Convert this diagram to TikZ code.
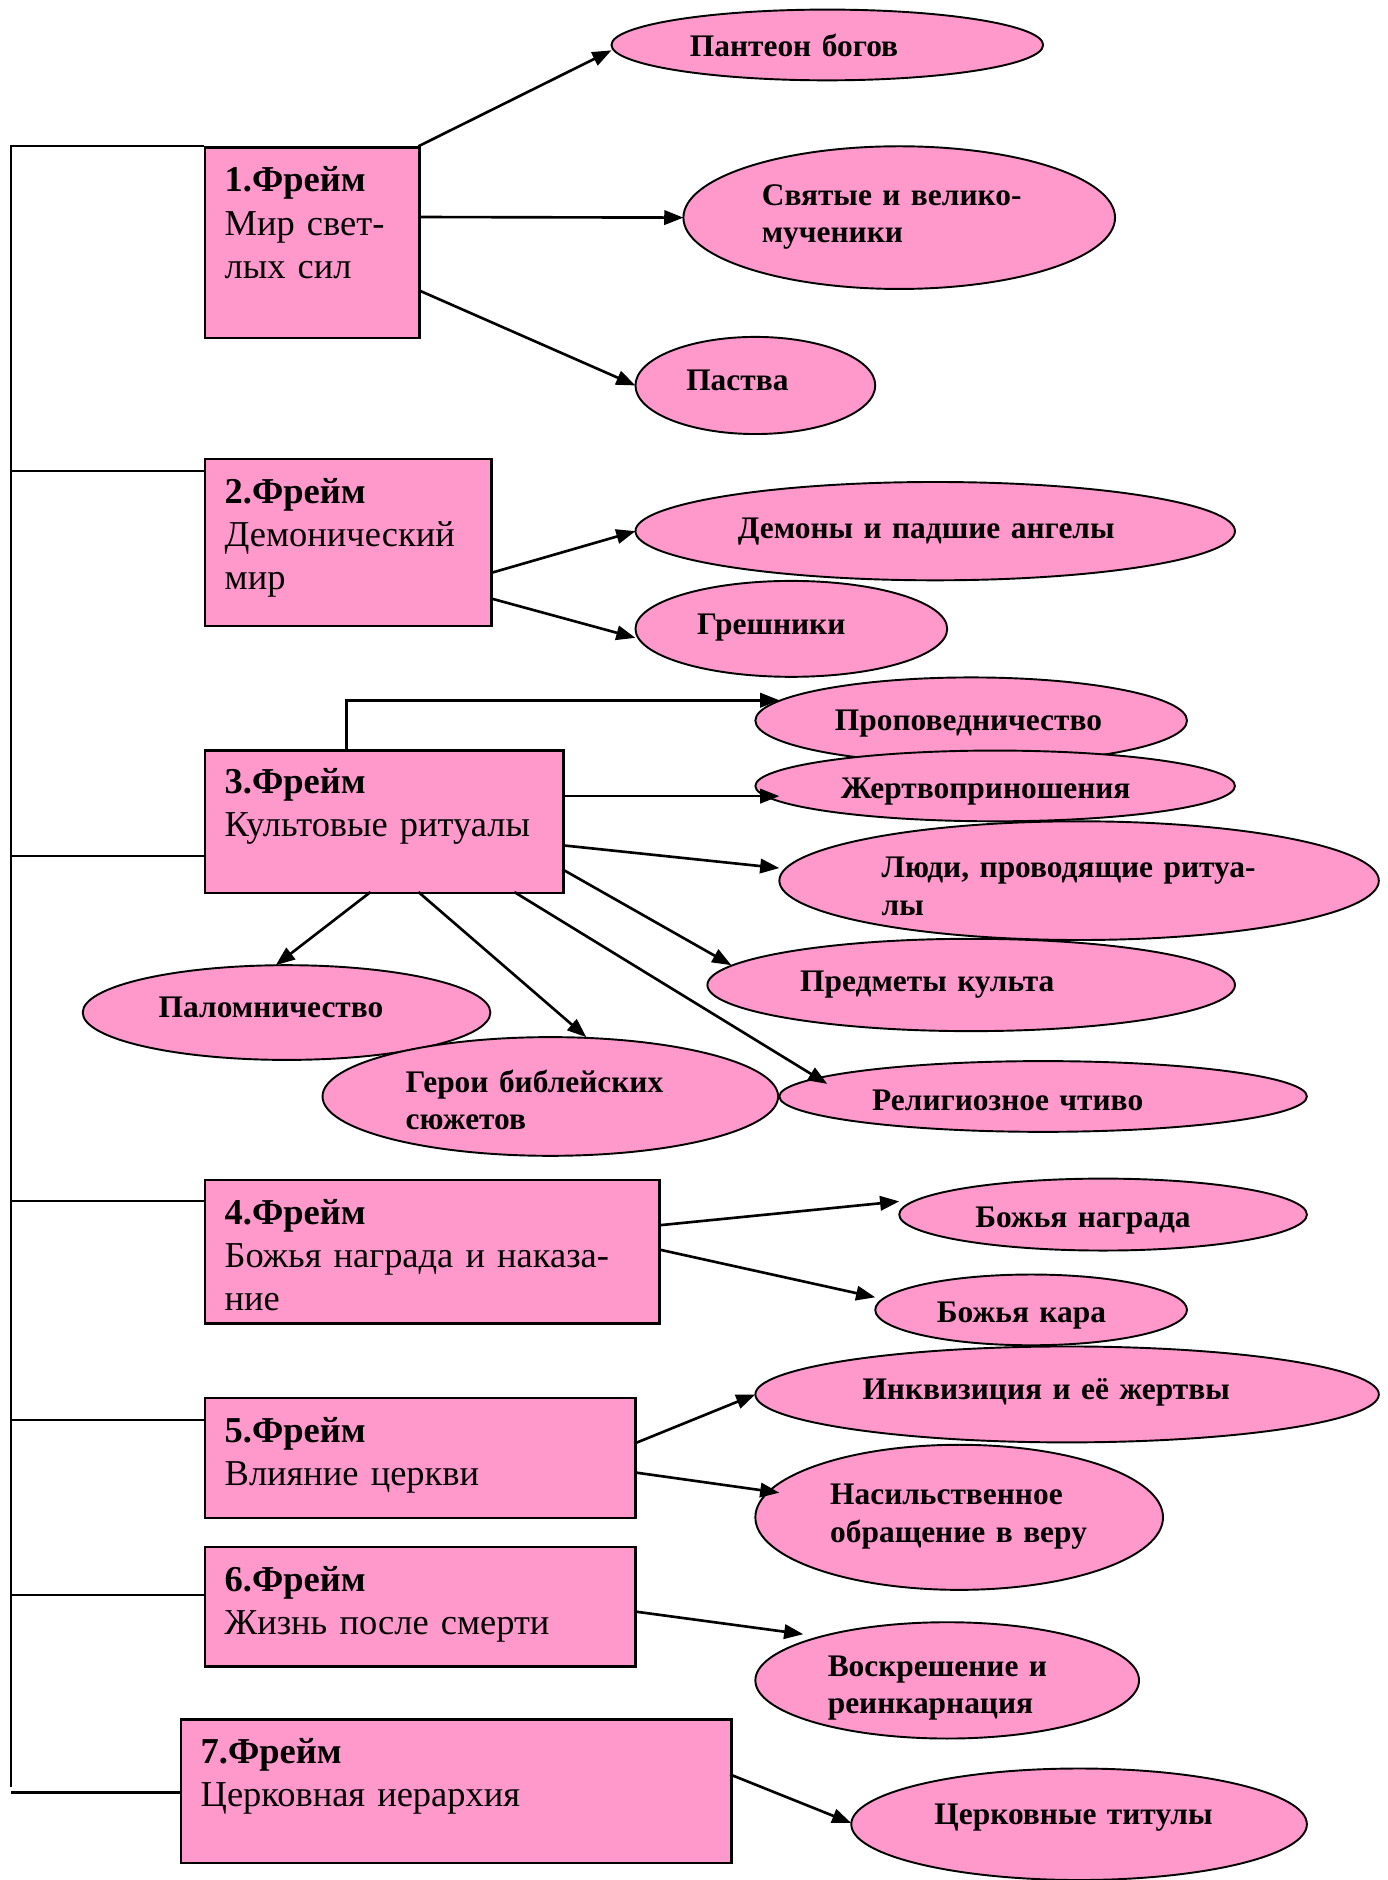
\documentclass[tikz,border=0pt]{standalone}
\usepackage{fontspec}
\setmainfont{Liberation Serif}
\usetikzlibrary{arrows.meta,shapes.geometric,calc}
\definecolor{pinkfill}{HTML}{FF99CC}
\tikzset{
  framebox/.style={draw=black, line width=1pt, fill=pinkfill, rectangle, inner sep=0pt, anchor=north west},
  oval/.style={draw=black, line width=0.8pt, fill=pinkfill, ellipse, inner sep=0pt},
  conn/.style={line width=1.1pt, -{Triangle[length=8pt,width=6pt]}},
  treeline/.style={line width=0.9pt},
  boxtxt/.style={anchor=base west, inner sep=0pt, align=left, text width=220pt,
     font={\fontsize{15.2}{18}\selectfont\lineskiplimit=-50pt}},
  lbl/.style={anchor=base west, inner sep=0pt, align=left, text width=220pt,
     font={\bfseries\fontsize{13.1}{15.7}\selectfont\lineskiplimit=-50pt}},
}
\begin{document}
\begin{tikzpicture}[x=0.5pt,y=-0.5pt]
\useasboundingbox (0,0) rectangle (1157,1568);

% frame boxes
\node[framebox, minimum width=89.5pt, minimum height=79.5pt] (b1) at (170,122) {};
\node[framebox, minimum width=119.5pt, minimum height=69.5pt] (b2) at (170,382) {};
\node[framebox, minimum width=149.5pt, minimum height=59.5pt] (b3) at (170,625) {};
\node[framebox, minimum width=189.5pt, minimum height=60pt] (b4) at (170,983) {};
\node[framebox, minimum width=179.5pt, minimum height=50pt] (b5) at (170,1165) {};
\node[framebox, minimum width=179.5pt, minimum height=50pt] (b6) at (170,1289) {};
\node[framebox, minimum width=229.5pt, minimum height=60pt] (b7) at (150,1433) {};

% box texts
\node[boxtxt] (t1) at (187,160) {\textbf{1.Фрейм}\\Мир свет-\\лых сил};
\node[boxtxt] (t2) at (187,420) {\textbf{2.Фрейм}\\Демонический\\мир};
\node[boxtxt] (t3) at (187,662) {\textbf{3.Фрейм}\\Культовые ритуалы};
\node[boxtxt] (t4) at (187,1021) {\textbf{4.Фрейм}\\Божья награда и наказа-\\ние};
\node[boxtxt] (t5) at (187,1203) {\textbf{5.Фрейм}\\Влияние церкви};
\node[boxtxt] (t6) at (187,1327) {\textbf{6.Фрейм}\\Жизнь после смерти};
\node[boxtxt] (t7) at (167,1471) {\textbf{7.Фрейм}\\Церковная иерархия};

% ellipses
\node[oval, minimum width=180pt, minimum height=29.5pt] (e1) at (690,37.5) {};
\node[oval, minimum width=180pt, minimum height=59.5pt] (e2) at (750,181.5) {};
\node[oval, minimum width=100pt, minimum height=40.5pt] (e3) at (630,321.5) {};
\node[oval, minimum width=250pt, minimum height=41pt] (e4) at (780,443) {};
\node[oval, minimum width=130pt, minimum height=40pt] (e5) at (660,524.5) {};
\node[oval, minimum width=180pt, minimum height=36pt] (e6) at (810,601) {};
\node[oval, minimum width=200pt, minimum height=29.5pt] (e7) at (830,655.5) {};
\node[oval, minimum width=250pt, minimum height=49.5pt] (e8) at (900,734.5) {};
\node[oval, minimum width=220pt, minimum height=38.5pt] (e9) at (810,821.5) {};
\node[oval, minimum width=170pt, minimum height=39.5pt] (e10) at (239,844.5) {};
\node[oval, minimum width=190pt, minimum height=49.5pt] (e11) at (459,914.5) {};
\node[oval, minimum width=220pt, minimum height=29.5pt] (e12) at (870,914.5) {};
\node[oval, minimum width=170pt, minimum height=30pt] (e13) at (920,1013) {};
\node[oval, minimum width=130pt, minimum height=29.5pt] (e14) at (860,1092.5) {};
\node[oval, minimum width=260pt, minimum height=40pt] (e15) at (890,1163) {};
\node[oval, minimum width=170pt, minimum height=60.5pt] (e16) at (800,1265.5) {};
\node[oval, minimum width=160pt, minimum height=48.5pt] (e17) at (790,1401.5) {};
\node[oval, minimum width=190pt, minimum height=46.5pt] (e18) at (900,1521.5) {};

% ellipse labels
\node[lbl] (l1) at (575,47) {Пантеон богов};
\node[lbl] (l2) at (635,171) {Святые и велико-\\мученики};
\node[lbl] (l3) at (572,326) {Паства};
\node[lbl] (l4) at (615,449) {Демоны и падшие ангелы};
\node[lbl] (l5) at (581,529) {Грешники};
\node[lbl] (l6) at (696,609) {Проповедничество};
\node[lbl] (l7) at (701,666) {Жертвоприношения};
\node[lbl] (l8) at (735,732) {Люди, проводящие ритуа-\\лы};
\node[lbl] (l9) at (667,827) {Предметы культа};
\node[lbl] (l10) at (132,849) {Паломничество};
\node[lbl] (l11) at (338,911) {Герои библейских\\сюжетов};
\node[lbl] (l12) at (727,926) {Религиозное чтиво};
\node[lbl] (l13) at (813,1024) {Божья награда};
\node[lbl] (l14) at (781,1103) {Божья кара};
\node[lbl] (l15) at (719,1167) {Инквизиция и её жертвы};
\node[lbl] (l16) at (692,1255) {Насильственное\\обращение в веру};
\node[lbl] (l17) at (690,1398) {Воскрешение и\\реинкарнация};
\node[lbl] (l18) at (779,1522) {Церковные титулы};

% tree on the left
\coordinate (top) at (9,122);
\coordinate (bot) at (9,1490);
\draw[treeline] (b1.north west) -- (top) -- (bot);
\coordinate (a2) at ($(b2.north west)+(0,11)$);
\coordinate (a3) at ($(b3.north west)+(0,89)$);
\coordinate (a4) at ($(b4.north west)+(0,19)$);
\coordinate (a5) at ($(b5.north west)+(0,19)$);
\coordinate (a6) at ($(b6.north west)+(0,41)$);
\coordinate (a7) at ($(b7.north west)+(0,62)$);
\foreach \a in {a2,a3,a4,a5,a6,a7} \draw[treeline] (\a) -- (\a -| top);

% connectors
\draw[conn] ($(b1.north west)+(179,0)$) -- ($(e1.center)+(-180,4.5)$);
\draw[conn] ($(b1.north west)+(179,59)$) -- ($(e2.center)+(-180,0)$);
\draw[conn] ($(b1.north west)+(179,120)$) -- ($(e3.center)+(-100,0)$);
\draw[conn] ($(b2.north west)+(239,96)$) -- ($(e4.center)+(-250,0)$);
\draw[conn] ($(b2.north west)+(239,117)$) -- ($(e5.center)+(-130,7.5)$);
\draw[conn] ($(b3.north west)+(119,0)$) |- ($(e6.center)+(-160,-17)$);
\draw[conn] ($(b3.north west)+(299,39)$) -- ($(e7.center)+(-180,8.5)$);
\draw[conn] ($(b3.north west)+(299,80)$) -- ($(e8.center)+(-250,-10.5)$);
\draw[conn] ($(b3.north west)+(299,100)$) -- ($(e9.center)+(-200,-16.5)$);
\draw[conn] ($(b3.north west)+(259,119)$) -- ($(e12.center)+(-180,-10.5)$);
\draw[conn] ($(b3.north west)+(179,119)$) -- ($(e11.center)+(30,-49.5)$);
\draw[conn] ($(b3.north west)+(139,119)$) -- ($(e10.center)+(-9,-39.5)$);
\draw[conn] ($(b4.north west)+(379,39)$) -- ($(e13.center)+(-170,-11)$);
\draw[conn] ($(b4.north west)+(379,59)$) -- ($(e14.center)+(-130,-10.5)$);
\draw[conn] ($(b5.north west)+(359,39)$) -- ($(e15.center)+(-260,0)$);
\draw[conn] ($(b5.north west)+(359,63)$) -- ($(e16.center)+(-150,-20.5)$);
\draw[conn] ($(b6.north west)+(359,55)$) -- ($(e17.center)+(-120,-38.5)$);
\draw[conn] ($(b7.north west)+(459,47)$) -- ($(e18.center)+(-190,-1)$);
\end{tikzpicture}
\end{document}
